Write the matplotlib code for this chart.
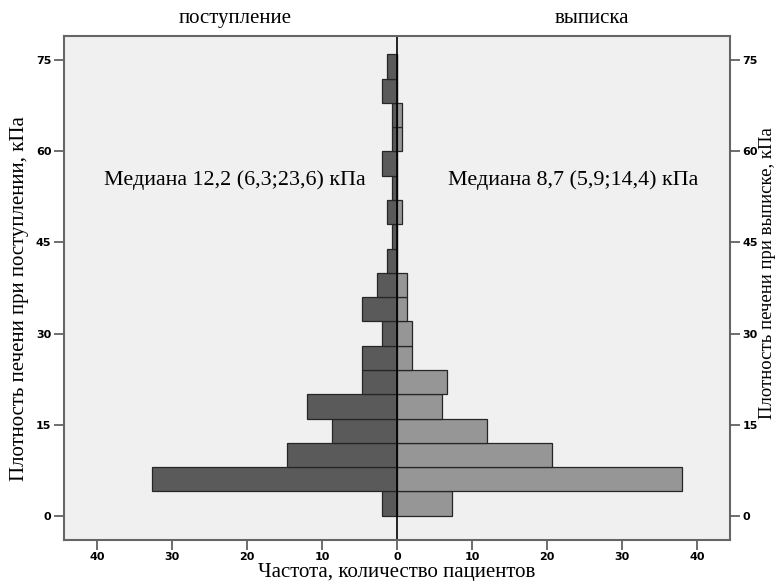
import matplotlib
matplotlib.use("Agg")
import matplotlib.pyplot as plt
from matplotlib.ticker import FixedLocator

# нижние границы интервалов (кПа), ширина интервала 4
bin_starts = [0, 4, 8, 12, 16, 20, 24, 28, 32, 36, 40, 44, 48, 52, 56, 60, 64, 68, 72]
bin_width = 4

# поступление (левая половина)
admission = [2.0, 32.67, 14.67, 8.67, 12.0, 4.67, 4.67, 2.0, 4.67, 2.67,
             1.33, 0.67, 1.33, 0.67, 2.0, 0.67, 0.67, 2.0, 1.33]
# выписка (правая половина)
discharge = [7.33, 38.0, 20.67, 12.0, 6.0, 6.67, 2.0, 2.0, 1.33, 1.33,
             0.0, 0.0, 0.67, 0.0, 0.0, 0.67, 0.67, 0.0, 0.0]

x_ticks = [-40, -30, -20, -10, 0, 10, 20, 30, 40]
x_tick_labels = ["40", "30", "20", "10", "0", "10", "20", "30", "40"]
y_ticks = [0, 15, 30, 45, 60, 75]

serif = ["Liberation Serif", "DejaVu Serif"]
tick_font = dict(family="DejaVu Sans", weight="bold", size=8)

fig = plt.figure(figsize=(7.82, 5.81), dpi=100)
ax = fig.add_axes([0.0818, 0.0706, 0.8517, 0.8674])
ax.set_facecolor("#f0f0f0")

centers = [b + bin_width / 2 for b in bin_starts]
ax.barh(centers, [-v for v in admission], height=bin_width, color="#5a5a5a",
        edgecolor="#262626", linewidth=0.9)
ax.barh(centers, discharge, height=bin_width, color="#969696",
        edgecolor="#262626", linewidth=0.9)
ax.axvline(0, color="black", linewidth=1.2)

ax.set_xlim(-44.4, 44.4)
ax.set_ylim(-4, 79)
ax.xaxis.set_major_locator(FixedLocator(x_ticks))
ax.set_xticklabels(x_tick_labels, **tick_font)
ax.yaxis.set_major_locator(FixedLocator(y_ticks))
ax.set_yticklabels([str(t) for t in y_ticks], **tick_font)
ax.tick_params(direction="out", length=7, width=1.2, color="#555555", pad=2)

for spine in ax.spines.values():
    spine.set_color("#666666")
    spine.set_linewidth(1.5)

ax2 = ax.twinx()
ax2.set_ylim(ax.get_ylim())
ax2.yaxis.set_major_locator(FixedLocator(y_ticks))
ax2.set_yticklabels([str(t) for t in y_ticks], **tick_font)
ax2.tick_params(direction="out", length=7, width=1.2, color="#555555", pad=2)
for spine in ax2.spines.values():
    spine.set_visible(False)

ax.set_xlabel("Частота, количество пациентов", family=serif, fontsize=15)
ax.xaxis.set_label_coords(0.5, -0.045, transform=ax.transAxes)
ax.xaxis.label.set_va("top")
ax.set_ylabel("Плотность печени при поступлении, кПа", family=serif, fontsize=15)
ax.yaxis.set_label_coords(-0.052, 0.48)
ax2.set_ylabel("Плотность печени при выписке, кПа", family=serif, fontsize=13.5,
               rotation=90)
ax2.yaxis.set_label_coords(1.043, 0.53)

ax.text(-21.6, 80.3, "поступление", family=serif, fontsize=15, ha="center", va="bottom")
ax.text(26.0, 80.3, "выписка", family=serif, fontsize=15, ha="center", va="bottom")

ax.text(-21.6, 55.3, "Медиана 12,2 (6,3;23,6) кПа", family=serif, fontsize=15.8,
        ha="center", va="center")
ax.text(23.5, 55.3, "Медиана 8,7 (5,9;14,4) кПа", family=serif, fontsize=15.8,
        ha="center", va="center")

fig.savefig("out.png", dpi=100)
